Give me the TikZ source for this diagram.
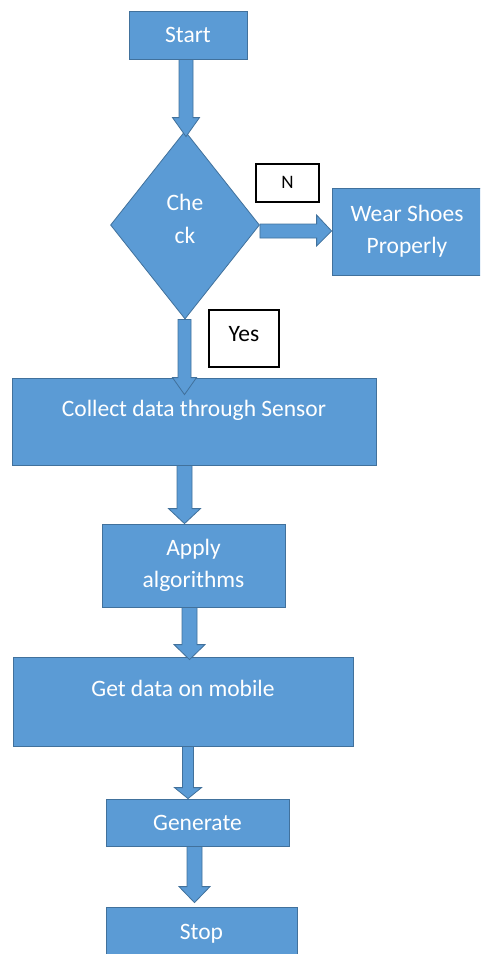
\documentclass[tikz,border=0pt]{standalone}
\usepackage{fontspec}
\setmainfont{Carlito}
\usetikzlibrary{shapes.geometric,calc}
\definecolor{boxblue}{HTML}{5B9BD5}
\definecolor{edgeblue}{HTML}{41719C}
\newcommand\mainfnt{\fontsize{23.5}{32}\selectfont}
\tikzset{
  procbox/.style={rectangle, fill=boxblue, draw=edgeblue, line width=0.8pt,
    text=white, font=\mainfnt, align=center, inner sep=0pt},
  decbox/.style={diamond, fill=boxblue, draw=edgeblue, line width=0.8pt,
    text=white, font=\mainfnt, align=center, inner sep=0pt},
  tagbox/.style={rectangle, fill=white, draw=black, line width=1.2pt,
    text=black, inner sep=0pt},
  blockarrow/.style={fill=boxblue, draw=edgeblue, line width=0.8pt, line join=miter}
}
% #1 x, #2 from, #3 to, #4 tip offset below target north, #5 shaft half, #6 head half, #7 head length
\newcommand\vblock[7]{%
  \filldraw[blockarrow] let \p1=(#2.south), \p2=(#3.north) in
    (#1pt-#5pt,\y1) -- (#1pt+#5pt,\y1) -- (#1pt+#5pt,\y2-#4pt+#7pt)
    -- (#1pt+#6pt,\y2-#4pt+#7pt) -- (#1pt,\y2-#4pt) -- (#1pt-#6pt,\y2-#4pt+#7pt)
    -- (#1pt-#5pt,\y2-#4pt+#7pt) -- cycle;}
\begin{document}
\begin{tikzpicture}[x=1pt,y=-1pt]
\useasboundingbox (0,0) rectangle (480,954);
\clip (0,0) rectangle (480,954);
% boxes
\node[procbox, minimum width=118pt, minimum height=48pt] (start) at (188,35) {Start};
\node[decbox, minimum width=149pt, minimum height=188pt] (check) at (185,225)
  {\raisebox{6pt}[\height][\depth]{\shortstack{Che\\[14pt]ck}}};
\node[procbox, minimum width=150pt, minimum height=87pt] (wear) at (407,231.5) {Wear Shoes\\Properly};
\node[procbox, minimum width=364pt, minimum height=87pt] (collect) at (194,421.5)
  {\raisebox{11pt}[\height][\depth]{Collect data through Sensor}};
\node[procbox, minimum width=183pt, minimum height=83pt] (apply) at (193.5,565.5) {Apply\\algorithms};
\node[procbox, minimum width=340pt, minimum height=89pt] (get) at (183,701.5)
  {\raisebox{13pt}[\height][\depth]{Get data on mobile}};
\node[procbox, minimum width=183pt, minimum height=47pt] (generate) at (197.5,822.5) {Generate};
\node[procbox, minimum width=191pt, minimum height=54pt] (stop) at (201.5,934) {Stop};
% labels
\node[tagbox, minimum width=63pt, minimum height=38pt, font=\fontsize{19}{21}\selectfont] (nlab) at (287.5,183)
  {\raisebox{1pt}[\height][\depth]{N}\hspace{10pt}};
\node[tagbox, minimum width=70pt, minimum height=57pt, font=\mainfnt] (yeslab) at (244,338.5)
  {\raisebox{4pt}[\height][\depth]{Yes}};
% block arrows
\vblock{186}{start}{check}{6}{7}{13.5}{19}
\vblock{184.5}{check}{collect}{17}{6.5}{12}{17}
\vblock{184.5}{collect}{apply}{0}{7.5}{16}{15}
\vblock{189.5}{apply}{get}{3}{7.5}{15.5}{15}
\vblock{188}{get}{generate}{0}{5.5}{13.5}{11}
\vblock{194.5}{generate}{stop}{-4}{7.5}{15.5}{16}
\filldraw[blockarrow] let \p1=(check.east), \p2=(wear.west) in
  (\x1,-224pt) -- (\x2-15pt,-224pt) -- (\x2-15pt,-215pt) -- (\x2,-231pt)
  -- (\x2-15pt,-246pt) -- (\x2-15pt,-238pt) -- (\x1,-238pt) -- cycle;
\end{tikzpicture}
\end{document}
